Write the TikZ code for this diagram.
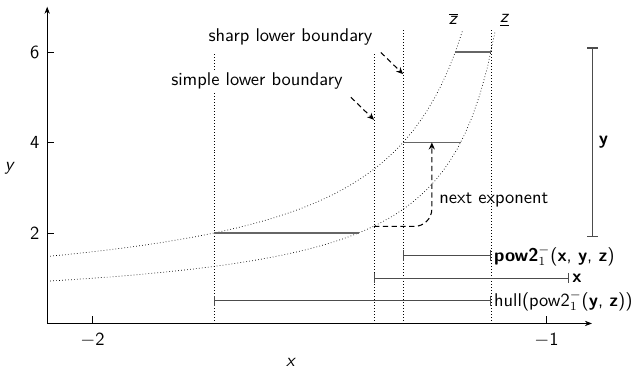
\documentclass[tikz,border=0pt]{standalone}
\usepackage{tikz}
\usetikzlibrary{arrows.meta,positioning,calc}
\renewcommand{\familydefault}{\sfdefault}
\tikzset{
  axis/.style={-{Stealth[length=4pt,width=3pt]}, thin},
  bound/.style={thin, dash pattern=on 0.4pt off 1.3pt},
  curve/.style={thin, dash pattern=on 0.4pt off 1.3pt},
  lvl/.style={draw=black!60, thick},
  intv/.style={{Bar[width=6pt]}-{Bar[width=6pt]}, draw=black!70, semithick},
  darr/.style={-{Stealth[length=4pt,width=3.5pt]}, semithick, dash pattern=on 3pt off 2pt},
  lbl/.style={fill=white, inner sep=1pt},
}

\begin{document}
\begin{tikzpicture}[x=9.08cm, y=0.905cm, every node/.style={font=\fontsize{10.5pt}{12pt}\selectfont}]
\useasboundingbox (-2.204,-1.138) rectangle (-0.803,7.149);

% axes
\coordinate (O) at (-2.1,0);
\coordinate (xend) at (-0.9,0);
\coordinate (yend) at (-2.1,7);
\draw[axis] (O) -- (xend);
\draw[axis] (O) -- (yend);
\foreach \t in {2,1} {
  \draw (-\t,0) -- ++(0,4pt);
  \node[below=2pt] (xt\t) at (-\t,0) {$-$\t};
}
\foreach \t in {2,4,6} {
  \draw (-2.1,\t) -- ++(4pt,0);
  \node[left=1pt] (yt\t) at (-2.1,\t) {\t};
}
\node (xlab) at (-1.563,-0.85) {\textit{x}};
\node (ylab) at (-2.182,3.44) {\textit{y}};

% z-bar and z-underbar
\draw[curve] plot[domain=2.1:1.184, samples=60] (-\x, {ln(3)/ln(\x)})
  node[above left=-1pt] (zup) {$\overline{\mbox{\textit{z}}}$};
\draw[curve] plot[domain=2.1:1.1125, samples=60] (-\x, {ln(2)/ln(\x)})
  node[above right=-1pt] (zlo) {\underline{\textit{z}}};

% boundaries
\draw[bound] (-1.732,0) -- (-1.732,6);
\draw[bound] (-1.38,0) -- (-1.38,6);
\draw[bound] (-1.316,0) -- (-1.316,6.5);
\draw[bound] (-1.1225,0) -- (-1.1225,6.5);

% exponent levels
\draw[lvl] (-1.732,2) -- (-1.414,2);
\draw[lvl] (-1.316,4) -- (-1.189,4);
\draw[lvl] (-1.201,6) -- (-1.1225,6);

\node[lbl] (sharp) at (-1.564,6.33) {sharp lower boundary};
\node[lbl] (simple) at (-1.638,5.36) {simple lower boundary};
\coordinate (sharpA) at (-1.365,5.99);
\coordinate (sharpB) at (-1.316,5.51);
\coordinate (simpleA) at (-1.431,5.0);
\coordinate (simpleB) at (-1.38,4.5);
\draw[darr] (sharpA) -- (sharpB);
\draw[darr] (simpleA) -- (simpleB);

\coordinate (nx0) at (-1.38,2.145);
\coordinate (nx1) at (-1.2527,4);
\draw[darr, rounded corners=0.35cm] (nx0) -| (nx1);
\node[anchor=west] (next) at (-1.25,2.73) {next exponent};

% intervals
\draw[intv] (-0.899,1.9) -- (-0.899,6.1) node[midway, right] (ybar) {\textbf{y}};
\draw[intv] (-1.316,1.5) -- (-1.1225,1.5)
  node[right, inner sep=1.5pt] (pbar) {\textbf{pow2}$^-_1$(\textbf{x}, \textbf{y}, \textbf{z})};
\draw[intv] (-1.38,1) -- (-0.95,1) node[right, inner sep=1.5pt] (xbar) {\textbf{x}};
\draw[intv] (-1.732,0.5) -- (-1.1225,0.5)
  node[right, inner sep=1.5pt] (hbar) {hull(pow2$^-_1$(\textbf{y}, \textbf{z}))};

\end{tikzpicture}
\end{document}
